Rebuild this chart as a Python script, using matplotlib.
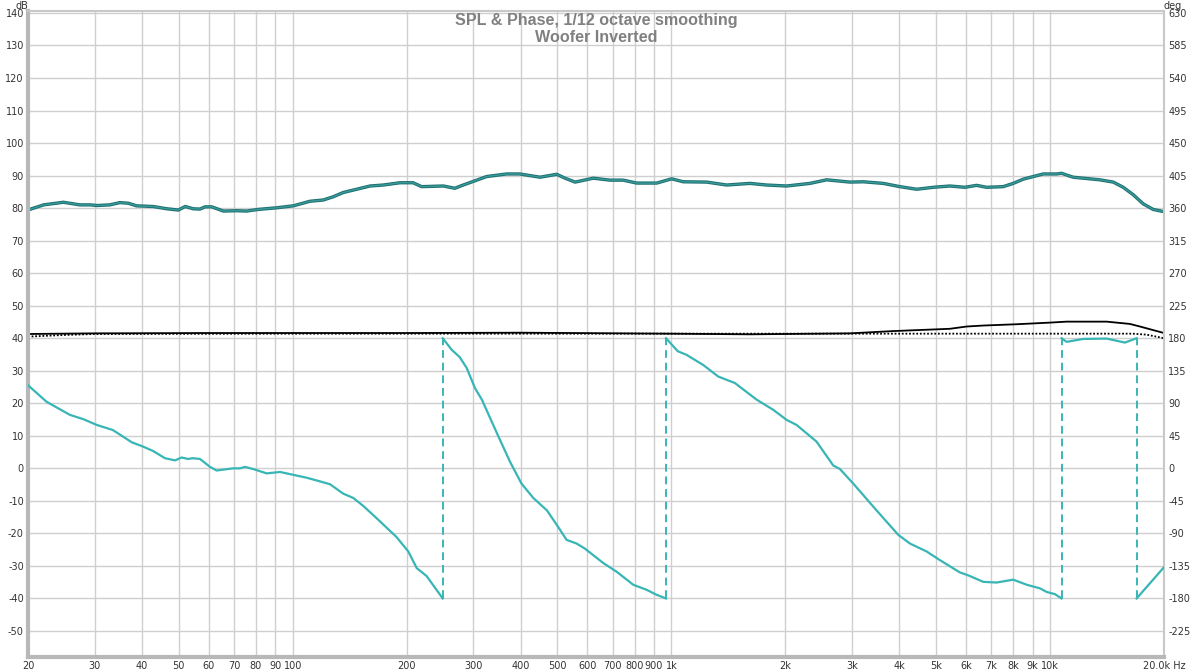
import numpy as np
import matplotlib.pyplot as plt

plt.rcParams['axes.unicode_minus'] = False

# SPL curve (Hz, dB)
spl_freq = [20, 20.2, 22, 24.8, 27.4, 29.2, 30.4, 32.9, 35.0, 36.8, 38.7, 42.8, 46.5, 49.9,
            52.0, 54.6, 56.9, 58.7, 61.1, 65.6, 71.1, 75.6, 81.1, 90.7, 100.4, 111, 120.5,
            128, 136, 147.6, 160, 173.5, 192, 208, 219, 250, 268, 282, 303, 325, 367, 398,
            450, 498, 524, 557, 622, 688, 746, 810, 915, 1002, 1075, 1240, 1400, 1612,
            1785, 2016, 2323, 2571, 2962, 3211, 3627, 4015, 4446, 4917, 5440, 5961, 6400,
            6798, 7523, 7995, 8497, 9028, 9594, 10410, 10730, 11510, 12240, 13540, 14690,
            15610, 16590, 17630, 18720, 20000]
spl_db = [79.4, 79.6, 81.0, 81.8, 81.0, 81.0, 80.8, 81.0, 81.7, 81.5, 80.7, 80.5, 79.8, 79.4,
          80.5, 79.8, 79.7, 80.4, 80.4, 79.1, 79.2, 79.1, 79.6, 80.1, 80.7, 82.1, 82.5,
          83.5, 84.8, 85.8, 86.8, 87.1, 87.8, 87.8, 86.6, 86.8, 86.1, 87.1, 88.4, 89.7, 90.5,
          90.5, 89.5, 90.4, 89.2, 88.0, 89.2, 88.6, 88.6, 87.7, 87.7, 89.0, 88.1, 88.0, 87.1,
          87.6, 87.1, 86.8, 87.6, 88.7, 88.0, 88.1, 87.6, 86.6, 85.8, 86.4, 86.8, 86.4, 87.0,
          86.4, 86.6, 87.6, 88.9, 89.7, 90.5, 90.5, 90.7, 89.5, 89.2, 88.7, 88.0,
          86.4, 84.1, 81.3, 79.6, 78.9]

# phase segments (Hz, deg), wrapped at +-180
ph1_freq = [20, 22.4, 25.8, 28.0, 30.4, 33.5, 37.6, 40.3, 42.8, 46.0, 48.9, 50.9, 52.9, 54.5,
            56.9, 60.5, 63.0, 69.6, 72.6, 74.8, 78.7, 85.4, 92.6, 100.4, 108.9, 118, 125.5,
            136, 144.6, 153.6, 166.6, 188, 202, 212.6, 225.8, 249]
ph1_deg = [115, 92, 74, 68, 60, 53, 36, 30, 24, 14, 11, 15, 13, 14, 13, 2, -3, 0, 0, 2, -1,
           -7, -5, -9, -13, -18, -22, -35, -41, -52, -69, -95, -115, -138, -149, -180]
ph2_freq = [249, 263, 276, 288, 303, 316, 346, 375, 402, 432, 469, 498, 529, 562, 591, 661,
            717, 793, 860, 915, 968]
ph2_deg = [180, 164, 154, 139, 111, 95, 49, 9, -21, -41, -58, -78, -99, -104, -111, -131,
           -143, -161, -168, -175, -180]
ph3_freq = [968, 1040, 1097, 1214, 1330, 1472, 1680, 1858, 2016, 2142, 2418, 2676, 2788,
            3022, 3414, 3974, 4266, 4722, 5120, 5781, 6081, 6662, 7228, 7995, 8674, 9404,
            9796, 10300, 10730]
ph3_deg = [180, 162, 157, 143, 127, 118, 95, 81, 67, 60, 37, 4, -1, -21, -53, -92, -104,
           -115, -127, -144, -148, -157, -158, -154, -161, -166, -171, -174, -180]
ph4_freq = [10730, 11060, 12240, 14110, 15770, 16930]
ph4_deg = [180, 175, 179, 179.5, 174, 180]
ph5_freq = [16930, 18720, 19900, 20000]
ph5_deg = [-180, -154, -138, -137]
wrap_freq = [249, 968, 10730, 16930]

# black traces (dB)
blk_freq = [20, 30, 60, 200, 400, 1000, 1612, 2962, 3855, 5440, 6021, 6662, 8160, 9990,
            11060, 14110, 16250, 17280, 20000]
blk_db = [41.3, 41.5, 41.6, 41.6, 41.7, 41.4, 41.2, 41.5, 42.2, 42.9, 43.6, 43.9, 44.3,
          44.8, 45.1, 45.1, 44.4, 43.6, 41.6]
dot_freq = [20, 25, 30, 100, 1000, 10000, 16500, 18000, 20000]
dot_db = [40.5, 41.0, 41.3, 41.4, 41.4, 41.4, 41.4, 41.1, 40.0]

xticks = [20, 30, 40, 50, 60, 70, 80, 90, 100, 200, 300, 400, 500, 600, 700, 800, 900,
          1000, 2000, 3000, 4000, 5000, 6000, 7000, 8000, 9000, 10000, 20000]
xlabels = ['20', '30', '40', '50', '60', '70', '80', '90', '100', '200', '300', '400',
           '500', '600', '700', '800', '900', '1k', '2k', '3k', '4k', '5k', '6k', '7k',
           '8k', '9k', '10k', '20.0k Hz']

fig = plt.figure(figsize=(12, 6.72), dpi=100)
ax = fig.add_axes([28 / 1200, 15 / 672, 1136 / 1200, 646 / 672])
ax.set_xscale('log')
ax.set_xlim(20, 20000)
ylo, yhi = -58, 140.6
ax.set_ylim(ylo, yhi)

ax.set_xticks(xticks)
ax.set_xticklabels(xlabels)
ax.xaxis.set_minor_locator(plt.NullLocator())
ax.set_yticks(np.arange(-50, 141, 10))
ax.tick_params(length=0, labelsize=7, colors='#333333', pad=3)
ax.grid(True, color='#cfcfcf', lw=1)
ax.set_axisbelow(True)
for s in ['top', 'right']:
    ax.spines[s].set_color('#c8c8c8')
    ax.spines[s].set_linewidth(1.5)
for s in ['left', 'bottom']:
    ax.spines[s].set_color('#b8b8b8')
    ax.spines[s].set_linewidth(3)

ax2 = ax.twinx()
ax2.set_ylim(ylo * 4.5, yhi * 4.5)
ax2.set_yticks(np.arange(-225, 631, 45))
ax2.tick_params(length=0, labelsize=7, colors='#333333', pad=3)
for s in ax2.spines.values():
    s.set_visible(False)

# black traces
ax.plot(dot_freq, dot_db, color='black', lw=1.3, ls=(0, (1, 1)))
ax.plot(blk_freq, blk_db, color='black', lw=1.3)

# SPL
ax.plot(spl_freq, spl_db, color='#1d6f70', lw=2.4, solid_capstyle='round')
ax.plot(spl_freq, spl_db, color='#3a9a9a', lw=1.0)

# phase
ph_color = '#38b5b5'
for fq, dg in [(ph1_freq, ph1_deg), (ph2_freq, ph2_deg), (ph3_freq, ph3_deg),
               (ph4_freq, ph4_deg), (ph5_freq, ph5_deg)]:
    ax2.plot(fq, dg, color=ph_color, lw=1.6)
for f in wrap_freq:
    ax2.plot([f, f], [-180, 180], color=ph_color, lw=1.4, ls=(0, (4, 2.5)))

ax.text(0, 1.0, 'dB', transform=ax.transAxes, ha='right', va='bottom', fontsize=7,
        color='#333333')
ax2.text(1.0, 1.0, 'deg', transform=ax.transAxes, ha='left', va='bottom', fontsize=7,
         color='#333333')
ax.text(0.5, 0.997, 'SPL & Phase, 1/12 octave smoothing\nWoofer Inverted',
        transform=ax.transAxes, ha='center', va='top', fontsize=11.6, fontweight='bold',
        family='Liberation Sans', color='#808080', linespacing=1.15)

fig.savefig('out.png', dpi=100)
